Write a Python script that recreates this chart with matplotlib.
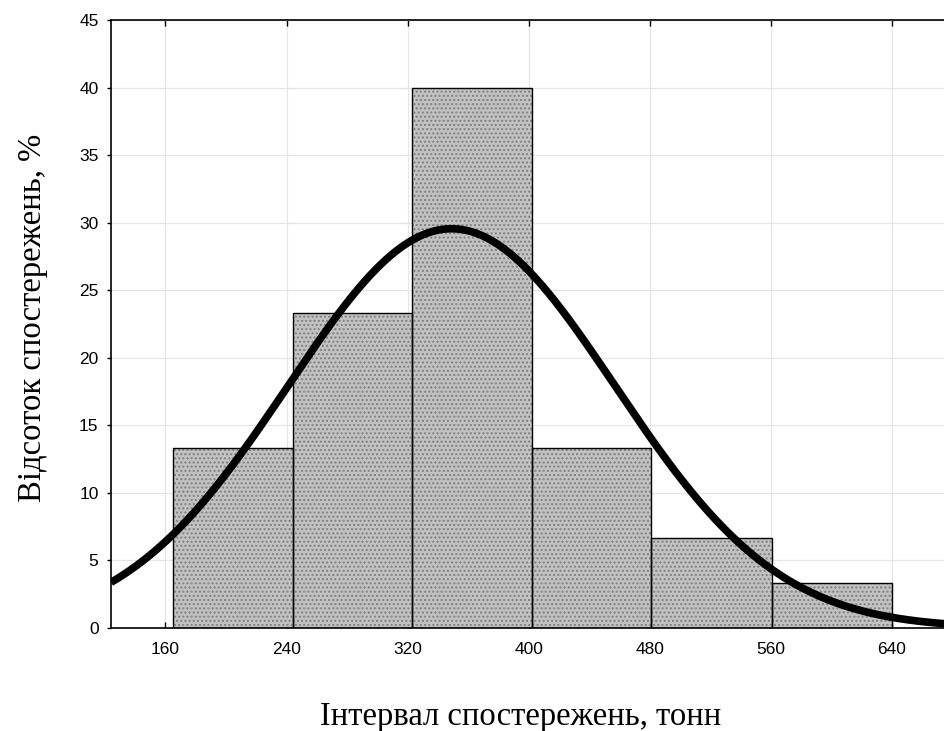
import numpy as np
import matplotlib
matplotlib.use("Agg")
import matplotlib.pyplot as plt

# histogram: interval edges (tonnes) as drawn, and share of observations (%)
bin_edges = [165, 244, 323, 402, 481, 561, 640]
percent = [13.33, 23.33, 40.0, 13.33, 6.67, 3.33]
# fitted normal curve parameters
mu, sigma = 349.0, 108.0
bin_width = 80

x_ticks = [160, 240, 320, 400, 480, 560, 640]
y_ticks = [0, 5, 10, 15, 20, 25, 30, 35, 40, 45]

fig = plt.figure(figsize=(9.44, 7.31), dpi=100)
ax = fig.add_axes([0.1176, 0.141, 0.885, 0.8316])

lefts = bin_edges[:-1]
widths = np.diff(bin_edges)
bars = ax.bar(lefts, percent, width=widths, align="edge", facecolor="#c2c2c2",
              edgecolor="#808080", linewidth=0, hatch="....", zorder=2)
ax.bar(lefts, percent, width=widths, align="edge", facecolor="none",
       edgecolor="black", linewidth=1.0, zorder=3)

xs = np.linspace(124, 676, 400)
ys = 100 * bin_width * np.exp(-0.5 * ((xs - mu) / sigma) ** 2) / (sigma * np.sqrt(2 * np.pi))
ax.plot(xs, ys, color="black", linewidth=5.5, zorder=4, solid_capstyle="butt")

ax.set_xlim(124, 676)
ax.set_ylim(0, 45)
ax.set_xticks(x_ticks)
ax.set_yticks(y_ticks)
ax.grid(True, color="#e6e6e6", linewidth=0.9, zorder=0)
ax.set_axisbelow(True)

for sp in ax.spines.values():
    sp.set_linewidth(1.2)
ax.spines["right"].set_visible(False)
ax.tick_params(axis="x", direction="in", length=4, width=1,
               labelsize=12.5, pad=10, top=True)
ax.tick_params(axis="y", direction="out", length=3, width=1,
               labelsize=12.5, pad=6)
for lab in ax.get_xticklabels() + ax.get_yticklabels():
    lab.set_fontfamily("Liberation Sans")

ax.set_xlabel("Інтервал спостережень, тонн", fontsize=23.5,
              fontfamily="Liberation Serif", labelpad=32)
ax.xaxis.label.set_x(0.49)
ax.set_ylabel("Відсоток спостережень, %", fontsize=23.5,
              fontfamily="Liberation Serif", labelpad=22)
ax.yaxis.label.set_y(0.51)

fig.savefig("out.png", dpi=100)
